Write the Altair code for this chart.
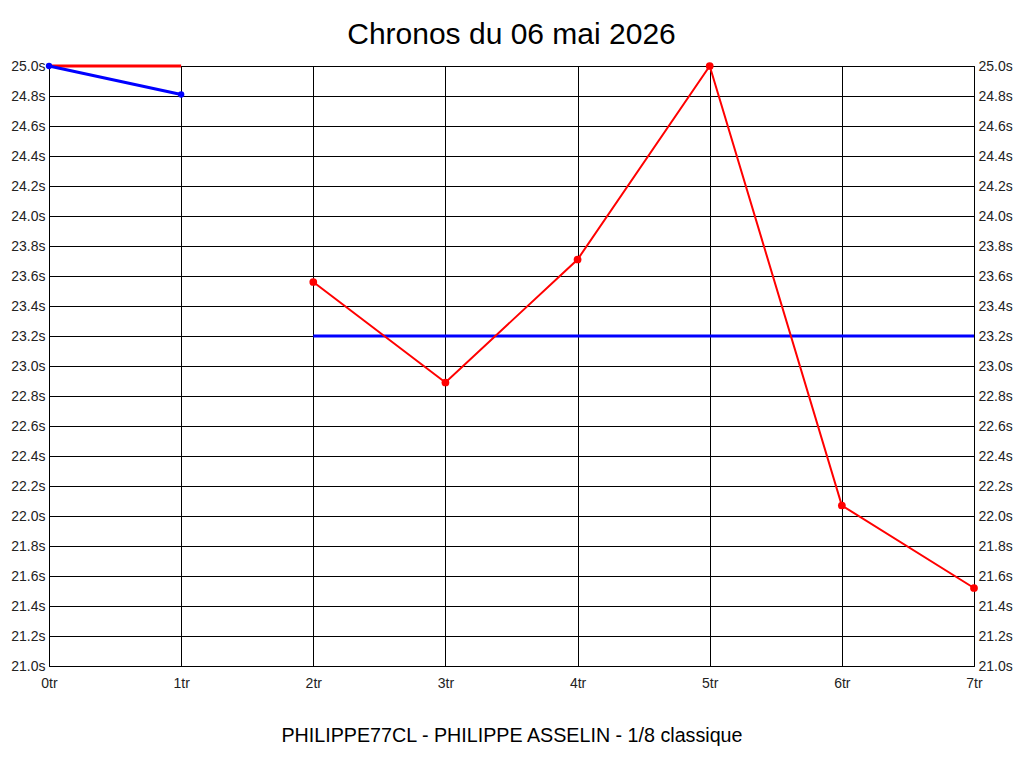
import altair as alt
import pandas as pd

# Data
red_a_x = [0, 1]
red_a_y = [25.0, 25.0]
red_b_x = [2, 3, 4, 5, 6, 7]
red_b_y = [23.56, 22.89, 23.71, 25.0, 22.07, 21.52]
blue_a_x = [0, 1]
blue_a_y = [25.0, 24.81]
blue_b_x = [2, 7]
blue_b_y = [23.2, 23.2]

x_ticks = [0, 1, 2, 3, 4, 5, 6, 7]
y_ticks = [21.0, 21.2, 21.4, 21.6, 21.8, 22.0, 22.2, 22.4, 22.6, 22.8, 23.0,
           23.2, 23.4, 23.6, 23.8, 24.0, 24.2, 24.4, 24.6, 24.8, 25.0]

rows = []
for seg, xs_, ys_ in [("red_a", red_a_x, red_a_y), ("red_b", red_b_x, red_b_y),
                      ("blue_a", blue_a_x, blue_a_y), ("blue_b", blue_b_x, blue_b_y)]:
    for x, y in zip(xs_, ys_):
        rows.append({"seg": seg, "x": x, "y": y})
df = pd.DataFrame(rows)

xscale = alt.Scale(domain=[0, 7], nice=False)
yscale = alt.Scale(domain=[21, 25], nice=False, zero=False)

xs = alt.X("x:Q", scale=xscale,
           axis=alt.Axis(values=x_ticks, labelExpr="datum.value + 'tr'", labelFlush=False,
                         title="PHILIPPE77CL - PHILIPPE ASSELIN - 1/8 classique",
                         titleFontSize=19.7, titleFontWeight="normal", titleFont="Liberation Sans",
                         titleColor="#000", titlePadding=35, labelPadding=10))
ys_left = alt.Y("y:Q", scale=yscale,
                axis=alt.Axis(values=y_ticks, labelExpr="format(datum.value, '.1f') + 's'",
                              title=None, orient="left", labelPadding=4, labelFlush=False))
ys_none = alt.Y("y:Q", scale=yscale, axis=None)


def seg_line(seg, color, width, y=ys_none):
    return alt.Chart(df).transform_filter(f"datum.seg == '{seg}'").mark_line(
        color=color, strokeWidth=width).encode(x=xs, y=y)


def seg_pts(seg, color, size):
    return alt.Chart(df).transform_filter(f"datum.seg == '{seg}'").mark_circle(
        size=size, opacity=1, color=color).encode(x=xs, y=ys_none)


right = alt.Chart(df).mark_point(opacity=0).encode(
    x=xs,
    y=alt.Y("y:Q", scale=yscale,
            axis=alt.Axis(values=y_ticks, labelExpr="format(datum.value, '.1f') + 's'",
                          title=None, orient="right", labelPadding=4, grid=False,
                          labelFlush=False)),
)

chart = alt.layer(
    seg_line("red_a", "#ff0000", 3, ys_left),
    seg_line("blue_b", "#0000ff", 3),
    seg_line("red_b", "#ff0000", 2),
    seg_pts("red_b", "#ff0000", 60),
    seg_line("blue_a", "#0000ff", 3),
    seg_pts("blue_a", "#0000ff", 40),
    right,
).resolve_axis(y="independent").properties(
    width=925, height=600,
    autosize=alt.AutoSizeParams(type="none"),
    padding={"left": 41, "top": 58, "right": 42, "bottom": 94},
    background="#ffffff",
    title=alt.TitleParams("Chronos du 06 mai 2026", fontSize=30, font="Liberation Sans",
                          fontWeight="normal", color="#000", anchor="middle", offset=9),
).configure_view(stroke="#000", strokeWidth=1).configure_axis(
    grid=True, gridColor="#000", gridOpacity=1, gridWidth=1,
    domain=False, ticks=False,
    labelFont="Liberation Sans", labelFontSize=14, labelColor="#222",
)

chart.save("out.html", embed_options={"renderer": "svg", "actions": False})
